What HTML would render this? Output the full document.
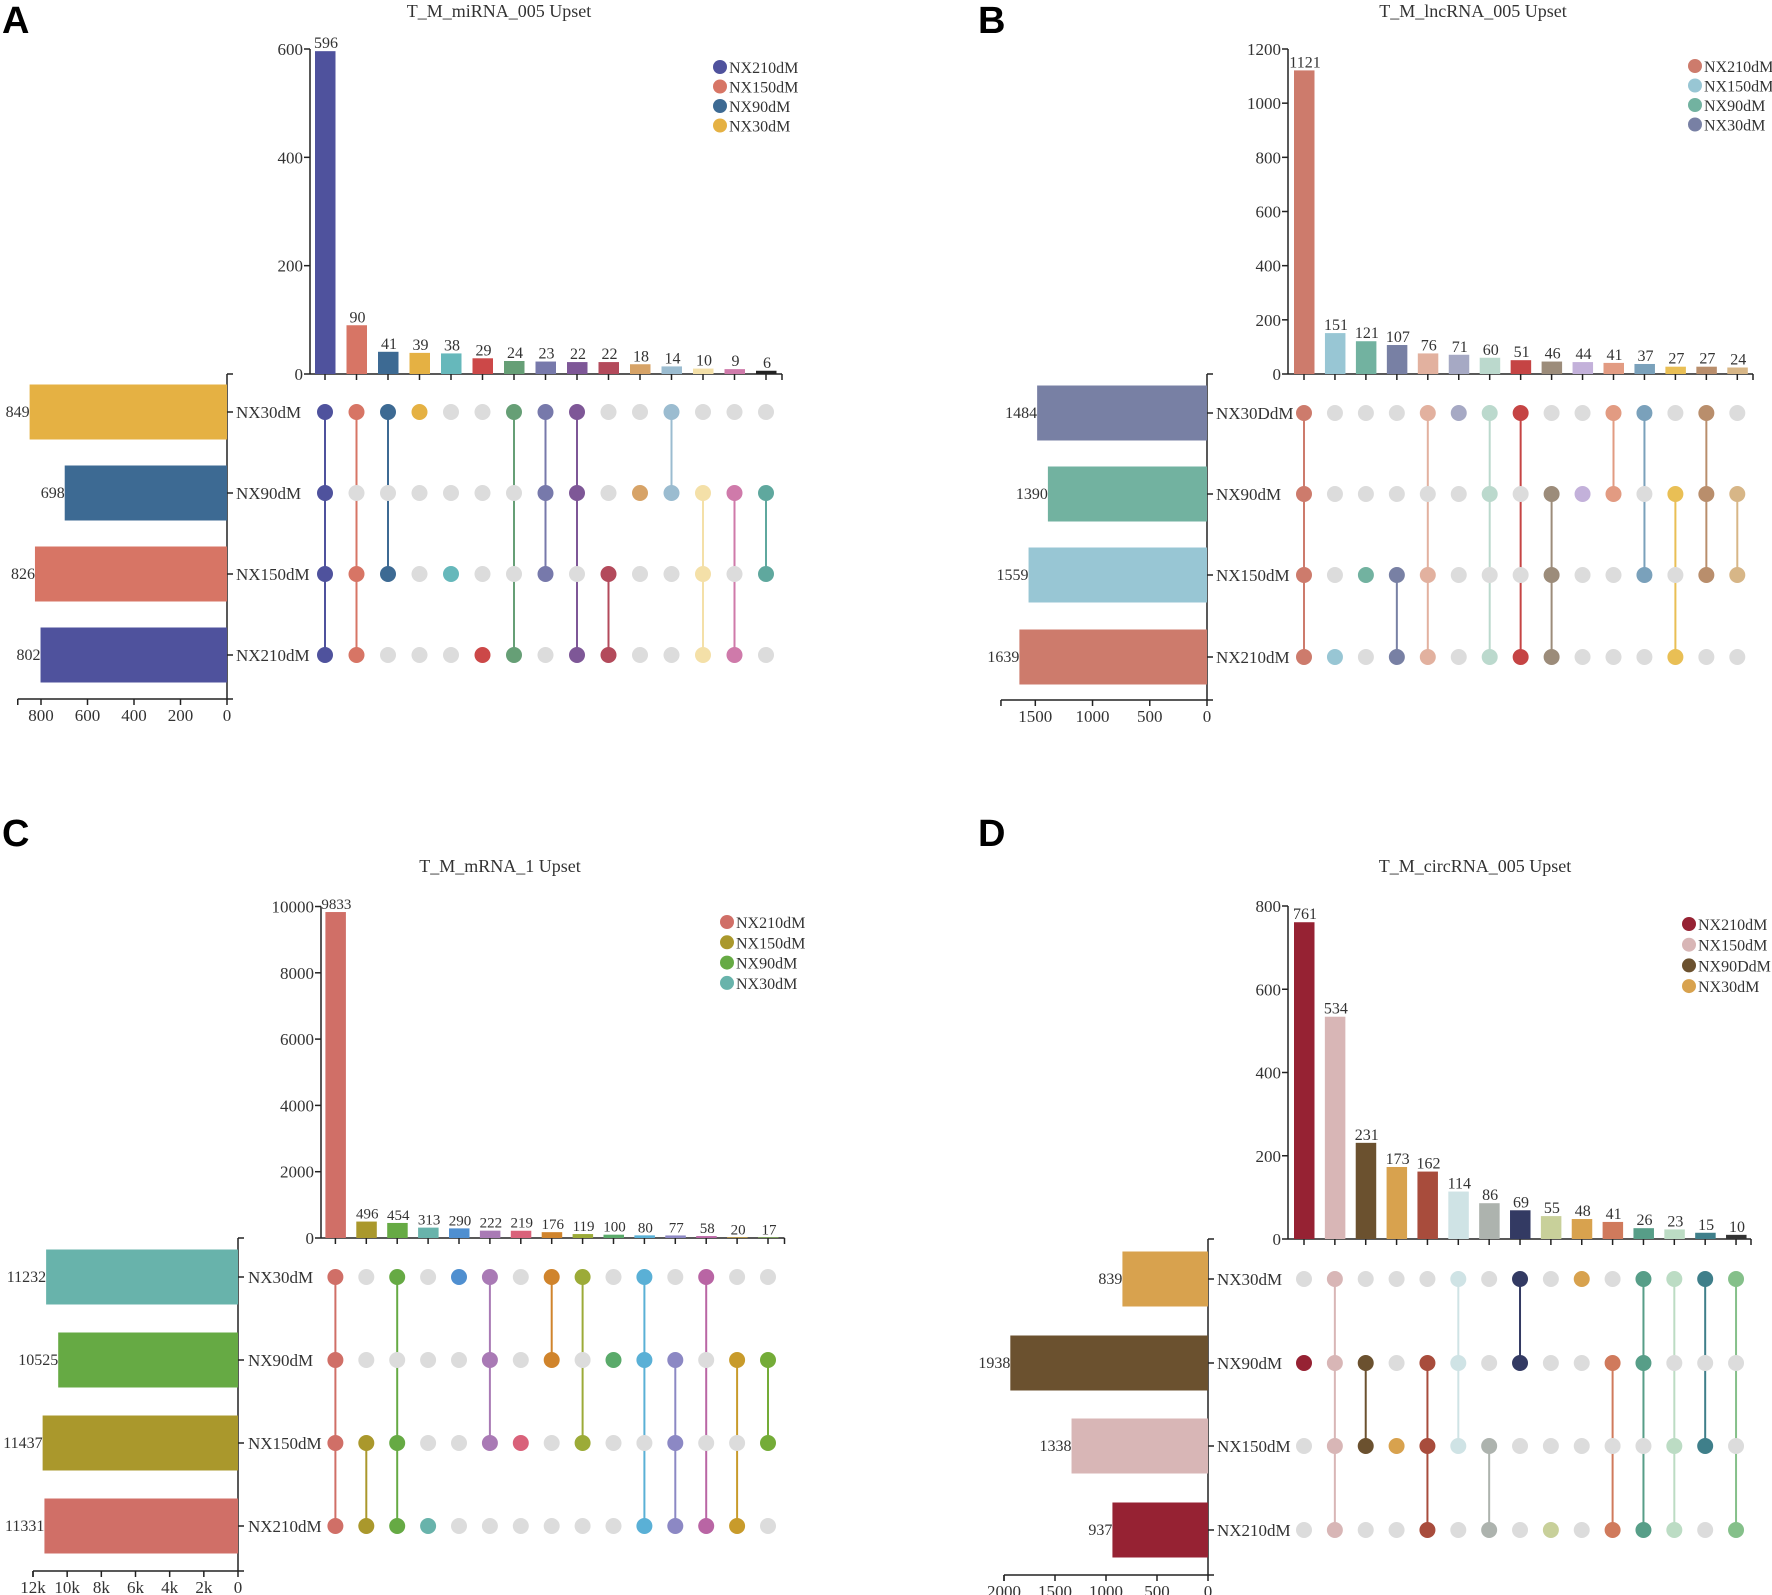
<!DOCTYPE html>
<html><head><meta charset="utf-8"><style>
html,body{margin:0;padding:0;background:#fff;}
svg{display:block;font-family:"Liberation Serif",serif;}
</style></head><body>
<svg id="fig" width="1772" height="1595" viewBox="0 0 1772 1595" xmlns="http://www.w3.org/2000/svg"></svg>
<script>
// ---------- Panel A data ----------
const A_sets=['NX30dM','NX90dM','NX150dM','NX210dM'];
const A_setSizes=[849,698,826,802];
const A_setColors=['#e5b143','#3d6a93','#d77565','#4f529d'];
const A_values=[596,90,41,39,38,29,24,23,22,22,18,14,10,9,6];
const A_barColors=['#4f529d','#d77565','#3d6a93','#e5b143','#66b8bb','#cc4848','#669f76','#7779ab','#7e5797','#b34a5b','#d7a367','#9bbcd0','#f4e0a8','#cf7aaa','#222222'];
const A_dotColors=['#4f529d','#d77565','#3d6a93','#e5b143','#66b8bb','#cc4848','#669f76','#7779ab','#7e5797','#b34a5b','#d7a367','#9bbcd0','#f4e0a8','#cf7aaa','#5fa89e'];
const A_members=[[0,1,2,3],[0,2,3],[0,2],[0],[2],[3],[0,3],[0,1,2],[0,1,3],[2,3],[1],[0,1],[1,2,3],[1,3],[1,2]];
const A_yTicks=[0,200,400,600];
const A_leftTicks=[800,600,400,200,0];
const A_leftTickLabels=['800','600','400','200','0'];
const A_legendNames=['NX210dM','NX150dM','NX90dM','NX30dM'];
const A_legendColors=['#4f529d','#d77565','#3d6a93','#e5b143'];
// ---------- Panel B data ----------
const B_sets=['NX30DdM','NX90dM','NX150dM','NX210dM'];
const B_setSizes=[1484,1390,1559,1639];
const B_setColors=['#7880a4','#72b2a0','#98c6d4','#cd7b6c'];
const B_values=[1121,151,121,107,76,71,60,51,46,44,41,37,27,27,24];
const B_barColors=['#cd7b6c','#98c6d4','#72b2a0','#7880a4','#e2b19f','#a6a9c4','#bbd9cd','#c54444','#9c8c7a','#c3b1da','#e29b82','#7aa1bb','#e9bf55','#b98e6c','#d7b687'];
const B_dotColors=B_barColors;
const B_members=[[0,1,2,3],[3],[2],[2,3],[0,2,3],[0],[0,1,3],[0,3],[1,2,3],[1],[0,1],[0,2],[1,3],[0,1,2],[1,2]];
const B_yTicks=[0,200,400,600,800,1000,1200];
const B_leftTicks=[1500,1000,500,0];
const B_leftTickLabels=['1500','1000','500','0'];
const B_legendNames=['NX210dM','NX150dM','NX90dM','NX30dM'];
const B_legendColors=['#cd7b6c','#98c6d4','#72b2a0','#7880a4'];
// ---------- Panel C data ----------
const C_sets=['NX30dM','NX90dM','NX150dM','NX210dM'];
const C_setSizes=[11232,10525,11437,11331];
const C_setColors=['#68b3ab','#66aa44','#aa982c','#d06f67'];
const C_values=[9833,496,454,313,290,222,219,176,119,100,80,77,58,20,17];
const C_barColors=['#d06f67','#aa982c','#66aa44','#68b3ab','#4f8fd0','#a97ab5','#d9627a','#d0842c','#9cab38','#5aaa6a','#5ab0d6','#8c88c4','#b965a4','#c89b2b','#74ac38'];
const C_dotColors=C_barColors;
const C_members=[[0,1,2,3],[2,3],[0,2,3],[3],[0],[0,1,2],[2],[0,1],[0,2],[1],[0,1,3],[1,2,3],[0,3],[1,3],[1,2]];
const C_yTicks=[0,2000,4000,6000,8000,10000];
const C_leftTicks=[12000,10000,8000,6000,4000,2000,0];
const C_leftTickLabels=['12k','10k','8k','6k','4k','2k','0'];
const C_legendNames=['NX210dM','NX150dM','NX90dM','NX30dM'];
const C_legendColors=['#d06f67','#aa982c','#66aa44','#68b3ab'];
// ---------- Panel D data ----------
const D_sets=['NX30dM','NX90dM','NX150dM','NX210dM'];
const D_setSizes=[839,1938,1338,937];
const D_setColors=['#d8a24e','#6b512f','#d8b6b6','#962233'];
const D_values=[761,534,231,173,162,114,86,69,55,48,41,26,23,15,10];
const D_barColors=['#962233','#d8b6b6','#6b512f','#d8a24e','#a84c3c','#cfe3e5','#adb3ae','#333a63','#c8d09a','#d8a24e','#d07a5c','#579e88','#bcdcc4','#3f7f8a','#333333'];
const D_dotColors=['#962233','#d8b6b6','#6b512f','#d8a24e','#a84c3c','#cfe3e5','#adb3ae','#333a63','#c8d09a','#d8a24e','#d07a5c','#579e88','#bcdcc4','#3f7f8a','#85c08a'];
const D_members=[[1],[0,1,2,3],[1,2],[2],[1,2,3],[0,1,2],[2,3],[0,1],[3],[0],[1,3],[0,1,3],[0,2,3],[0,2],[0,3]];
const D_yTicks=[0,200,400,600,800];
const D_leftTicks=[2000,1500,1000,500,0];
const D_leftTickLabels=['2000','1500','1000','500','0'];
const D_legendNames=['NX210dM','NX150dM','NX90DdM','NX30dM'];
const D_legendColors=['#962233','#d8b6b6','#6b512f','#d8a24e'];

const NS='http://www.w3.org/2000/svg';
const svg=document.getElementById('fig');
function mk(tag,attrs,parent,text){
  const e=document.createElementNS(NS,tag);
  for(const k in attrs)e.setAttribute(k,attrs[k]);
  if(text!==undefined)e.textContent=text;
  (parent||svg).appendChild(e);return e;
}
function panel(key,title,d,L){
  const g=mk('g',{});
  
  
  const lab=mk('text',{x:L.letterX,y:L.letterY,'font-family':'Liberation Sans, sans-serif','font-weight':'bold','font-size':38},g,key);
  
  
  const t=mk('text',{x:L.titleX,y:L.titleY,'text-anchor':'middle','font-size':18,fill:'#333'},g,title);
  
  
  const yMaxT=d.yTicks[d.yTicks.length-1];
  const yS=v=>L.yZero-(L.yZero-L.yTop)*v/yMaxT;
  const xC=i=>L.barStart+i*L.barStep;
  const ya=mk('g',{},g);
  
  
  mk('line',{x1:L.axisX,x2:L.axisX,y1:yS(yMaxT),y2:L.yZero,stroke:'#222','stroke-width':1.5},ya);
  d.yTicks.forEach(v=>{
    mk('line',{x1:L.axisX-6,x2:L.axisX,y1:yS(v),y2:yS(v),stroke:'#222','stroke-width':1.5},ya);
    const tx=mk('text',{x:L.axisX-7,y:yS(v)+6,'text-anchor':'end','font-size':17,fill:'#333'},ya,String(v));
    
    
  });
  const xa=mk('g',{},g);
  
  
  mk('line',{x1:L.axisX,x2:L.axisEnd,y1:L.yZero,y2:L.yZero,stroke:'#222','stroke-width':1.5},xa);
  mk('line',{x1:L.axisEnd,x2:L.axisEnd,y1:L.yZero,y2:L.yZero+6,stroke:'#222','stroke-width':1.5},xa);
  d.values.forEach((v,i)=>{
    const b=mk('rect',{x:xC(i)-10,y:yS(v),width:20.5,height:L.yZero-yS(v),fill:d.barColors[i]},g);
    
    
    mk('line',{x1:xC(i),x2:xC(i),y1:L.yZero,y2:L.yZero+6,stroke:'#222','stroke-width':1.5},xa);
    const tx=mk('text',{x:xC(i)+1,y:yS(v)-3,'text-anchor':'middle','font-size':L.valFont||16,fill:'#333'},g,String(v));
    
    
  });
  d.members.forEach((m,i)=>{
    const lo=Math.min(...m),hi=Math.max(...m);
    if(hi>lo){
      const ln=mk('line',{x1:xC(i),x2:xC(i),y1:L.rows[lo],y2:L.rows[hi],stroke:d.dotColors[i],'stroke-width':2},g);
      
      
    }
    for(let r=0;r<d.sets.length;r++){
      const on=m.includes(r);
      const c=mk('circle',{cx:xC(i),cy:L.rows[r],r:8,fill:on?d.dotColors[i]:'#dcdcdc'},g);
      
      
    }
  });
  const lS=v=>L.leftRight-L.leftPx*v/L.leftRef;
  const la=mk('g',{},g);
  
  
  mk('line',{x1:L.leftRight,x2:L.leftRight,y1:L.yZero,y2:L.leftAxisY,stroke:'#222','stroke-width':1.5},la);
  mk('line',{x1:L.leftRight,x2:L.leftRight+6,y1:L.yZero,y2:L.yZero,stroke:'#222','stroke-width':1.5},la);
  mk('line',{x1:lS(L.leftMax),x2:L.leftRight+6,y1:L.leftAxisY,y2:L.leftAxisY,stroke:'#222','stroke-width':1.5},la);
  mk('line',{x1:lS(L.leftMax),x2:lS(L.leftMax),y1:L.leftAxisY,y2:L.leftAxisY+6,stroke:'#222','stroke-width':1.5},la);
  d.leftTicks.forEach((v,i)=>{
    mk('line',{x1:lS(v),x2:lS(v),y1:L.leftAxisY,y2:L.leftAxisY+6,stroke:'#222','stroke-width':1.5},la);
    const tx=mk('text',{x:lS(v),y:L.leftAxisY+22,'text-anchor':'middle','font-size':17,fill:'#333'},la,d.leftTickLabels[i]);
    
    
  });
  d.sets.forEach((s,r)=>{
    const x=lS(d.setSizes[r]);
    const b=mk('rect',{x:x,y:L.rows[r]-27.5,width:L.leftRight-x,height:55,fill:d.setColors[r]},g);
    
    
    const v=mk('text',{x:x,y:L.rows[r]+5,'text-anchor':'end','font-size':16,fill:'#333'},g,String(d.setSizes[r]));
    
    
    mk('line',{x1:L.leftRight,x2:L.leftRight+6,y1:L.rows[r],y2:L.rows[r],stroke:'#222','stroke-width':1.5},g);
    const nl=mk('text',{x:L.labelX,y:L.rows[r]+6,'font-size':17,fill:'#333'},g,s);
    
    
  });
  d.legendNames.forEach((n,i)=>{
    const y=L.legY+i*L.legDy;
    const c=mk('circle',{cx:L.legX,cy:y,r:7,fill:d.legendColors[i]},g);
    
    
    const tx=mk('text',{x:L.legX+9,y:y+6,'font-size':16,fill:'#333'},g,n);
    
    
  });
}
function pack(p){return{sets:p[0],setSizes:p[1],setColors:p[2],values:p[3],barColors:p[4],dotColors:p[5],members:p[6],yTicks:p[7],leftTicks:p[8],leftTickLabels:p[9],legendNames:p[10],legendColors:p[11]};}
panel('A','T_M_miRNA_005 Upset',pack([A_sets,A_setSizes,A_setColors,A_values,A_barColors,A_dotColors,A_members,A_yTicks,A_leftTicks,A_leftTickLabels,A_legendNames,A_legendColors]),
 {letterX:2,letterY:33,titleX:499,titleY:17,axisX:310,yTop:49,yZero:374,barStart:325,barStep:31.5,axisEnd:782,rows:[412,493,574,655],leftRight:227,leftPx:186,leftRef:800,leftMax:900,leftAxisY:699,labelX:236,legX:720,legY:67,legDy:19.5});
panel('B','T_M_lncRNA_005 Upset',pack([B_sets,B_setSizes,B_setColors,B_values,B_barColors,B_dotColors,B_members,B_yTicks,B_leftTicks,B_leftTickLabels,B_legendNames,B_legendColors]),
 {letterX:978,letterY:33,titleX:1473,titleY:17,axisX:1288,yTop:49,yZero:374,barStart:1304,barStep:30.95,axisEnd:1753,rows:[413,494,575,657],leftRight:1207,leftPx:171.7,leftRef:1500,leftMax:1800,leftAxisY:700,labelX:1216,legX:1695,legY:66,legDy:19.5});
panel('C','T_M_mRNA_1 Upset',pack([C_sets,C_setSizes,C_setColors,C_values,C_barColors,C_dotColors,C_members,C_yTicks,C_leftTicks,C_leftTickLabels,C_legendNames,C_legendColors]),
 {letterX:2,letterY:846,titleX:500,titleY:872,axisX:321,yTop:906.5,yZero:1238,barStart:335.4,barStep:30.9,axisEnd:784.5,rows:[1277,1360,1443,1526],leftRight:238,leftPx:205,leftRef:12000,leftMax:12000,leftAxisY:1571,labelX:248,legX:727,legY:922,legDy:20.3,valFont:15});
panel('D','T_M_circRNA_005 Upset',pack([D_sets,D_setSizes,D_setColors,D_values,D_barColors,D_dotColors,D_members,D_yTicks,D_leftTicks,D_leftTickLabels,D_legendNames,D_legendColors]),
 {letterX:978,letterY:846,titleX:1475,titleY:872,axisX:1288,yTop:906,yZero:1239,barStart:1304,barStep:30.86,axisEnd:1751,rows:[1279,1363,1446,1530],leftRight:1208,leftPx:204,leftRef:2000,leftMax:2000,leftAxisY:1575,labelX:1217,legX:1689,legY:924,legDy:20.7});
</script>
</body></html>
